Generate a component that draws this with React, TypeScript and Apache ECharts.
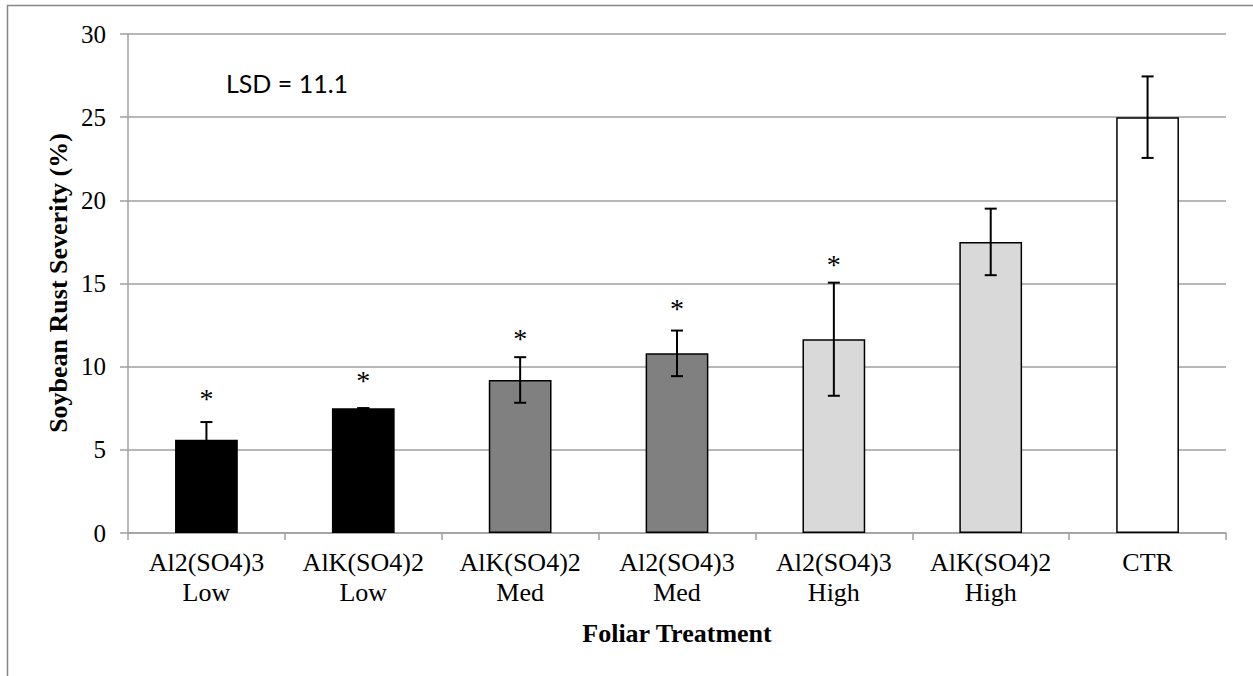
import React, { useEffect, useRef } from "react";
import * as echarts from "echarts";

const categories = [
  "Al2(SO4)3\nLow",
  "AlK(SO4)2\nLow",
  "AlK(SO4)2\nMed",
  "Al2(SO4)3\nMed",
  "Al2(SO4)3\nHigh",
  "AlK(SO4)2\nHigh",
  "CTR",
];
const severity = [5.6, 7.5, 9.2, 10.8, 11.65, 17.5, 25.0];
const stdErr = [1.07, 0.0, 1.37, 1.37, 3.4, 2.0, 2.45];
const asteriskLevel = [8.43, 9.52, 12.07, 13.87, 16.52, null, null];
const barFills = ["#000000", "#000000", "#808080", "#808080", "#d9d9d9", "#d9d9d9", "#ffffff"];
const yTicks = { min: 0, max: 30, interval: 5 };
const lsdLabel = "LSD = 11.1";
const xTitle = "Foliar Treatment";
const yTitle = "Soybean Rust Severity (%)";

export default function App() {
  const ref = useRef<HTMLDivElement>(null);
  useEffect(() => {
    document.body.style.margin = "0";
    const chart = echarts.init(ref.current!, null, { renderer: "svg" });
    const serif = "'Liberation Serif', 'Times New Roman', serif";
    const grid = "#a0a0a0";
    chart.setOption({
      animation: false,
      backgroundColor: "#ffffff",
      grid: { left: 128, right: 27, top: 34, bottom: 143 },
      xAxis: {
        type: "category",
        data: categories,
        boundaryGap: true,
        axisLine: { lineStyle: { color: grid, width: 1.5 } },
        axisTick: { show: true, length: 7, alignWithLabel: false, lineStyle: { color: grid, width: 1.5 } },
        axisLabel: { color: "#000", fontFamily: serif, fontSize: 26, lineHeight: 30, margin: 14, interval: 0 },
      },
      yAxis: {
        type: "value",
        min: yTicks.min,
        max: yTicks.max,
        interval: yTicks.interval,
        axisLine: { show: true, lineStyle: { color: grid, width: 1.5 } },
        axisTick: { show: true, length: 8, lineStyle: { color: grid, width: 1.5 } },
        axisLabel: { color: "#000", fontFamily: serif, fontSize: 25, margin: 22 },
        splitLine: { lineStyle: { color: grid, width: 1.5 } },
      },
      series: [
        {
          type: "bar",
          barWidth: "40%",
          data: severity.map((v, i) => ({
            value: v,
            itemStyle: { color: barFills[i], borderColor: "#000", borderWidth: 1.5 },
          })),
          z: 2,
        },
        {
          type: "custom",
          z: 3,
          data: severity.map((v, i) => [i, v, stdErr[i]]),
          renderItem: (params: any, api: any) => {
            const i = api.value(0);
            const v = api.value(1);
            const e = api.value(2);
            const top = api.coord([i, v + e]);
            const bot = api.coord([i, v - e]);
            const x = top[0];
            const h = 6;
            const st = { stroke: "#000", lineWidth: 2 };
            return {
              type: "group",
              children: [
                { type: "line", shape: { x1: x, y1: top[1], x2: x, y2: bot[1] }, style: st },
                { type: "line", shape: { x1: x - h, y1: top[1], x2: x + h, y2: top[1] }, style: st },
                { type: "line", shape: { x1: x - h, y1: bot[1], x2: x + h, y2: bot[1] }, style: st },
              ],
            };
          },
        },
        {
          type: "custom",
          z: 4,
          data: asteriskLevel
            .map((v, i) => (v == null ? null : [i, v]))
            .filter((d) => d !== null),
          renderItem: (params: any, api: any) => {
            const p = api.coord([api.value(0), api.value(1)]);
            return {
              type: "text",
              x: p[0],
              y: p[1] + 6,
              style: {
                text: "*",
                fontFamily: serif,
                fontSize: 28,
                fill: "#000",
                align: "center",
                verticalAlign: "middle",
              },
            };
          },
        },
      ],
      graphic: [
        {
          type: "rect",
          shape: { x: 7.5, y: 5.5, width: 1400, height: 800 },
          style: { fill: "none", stroke: "#868686", lineWidth: 1.5 },
          silent: true,
        },
        {
          type: "text",
          x: 287,
          y: 83,
          style: {
            text: lsdLabel,
            fontFamily: "Lato, 'Open Sans', sans-serif",
            fontSize: 25,
            fill: "#000",
            align: "center",
            verticalAlign: "middle",
          },
        },
        {
          type: "text",
          x: 677,
          y: 633,
          style: {
            text: xTitle,
            fontFamily: serif,
            fontWeight: "bold",
            fontSize: 26,
            fill: "#000",
            align: "center",
            verticalAlign: "middle",
          },
        },
        {
          type: "text",
          x: 58,
          y: 283,
          rotation: Math.PI / 2,
          style: {
            text: yTitle,
            fontFamily: serif,
            fontWeight: "bold",
            fontSize: 26,
            fill: "#000",
            align: "center",
            verticalAlign: "middle",
          },
        },
      ],
    });
    return () => chart.dispose();
  }, []);
  return <div ref={ref} style={{ width: 1253, height: 676 }} />;
}
